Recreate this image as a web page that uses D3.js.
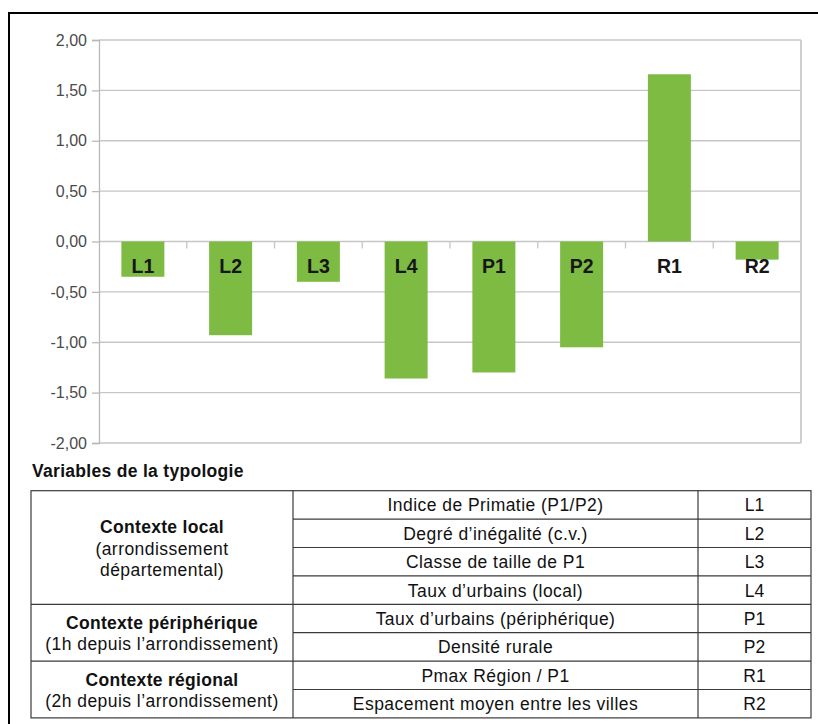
<!DOCTYPE html>
<html>
<head>
<meta charset="utf-8">
<script src="https://cdn.jsdelivr.net/npm/d3@7"></script>
<style>
  body { margin: 0; background: #fff; }
  svg { display: block; font-family: "Liberation Sans", Arial, sans-serif; }
</style>
</head>
<body>
<svg id="chart" width="818" height="724"></svg>
<script>
// data
var codes = ['L1', 'L2', 'L3', 'L4', 'P1', 'P2', 'R1', 'R2'];
var values = [-0.35, -0.93, -0.40, -1.36, -1.30, -1.05, 1.66, -0.18];
var yTicks = [-2, -1.5, -1, -0.5, 0, 0.5, 1, 1.5, 2];

var groups = ['Contexte local', 'Contexte périphérique', 'Contexte régional'];
var groupNotes = [['(arrondissement', 'départemental)'], ['(1h depuis l’arrondissement)'], ['(2h depuis l’arrondissement)']];
var groupSizes = [4, 2, 2];
var variables = ['Indice de Primatie (P1/P2)', 'Degré d’inégalité (c.v.)', 'Classe de taille de P1',
  'Taux d’urbains (local)', 'Taux d’urbains (périphérique)', 'Densité rurale',
  'Pmax Région / P1', 'Espacement moyen entre les villes'];

var svg = d3.select('#chart');
var plot = { left: 99, right: 801, top: 40, bottom: 443 };

// outer black frame (cut by the window on right and bottom)
svg.append('path')
  .attr('d', 'M9,730 L9,13 L830,13')
  .attr('fill', 'none')
  .attr('stroke', '#000')
  .attr('stroke-width', 2);

var x = d3.scaleBand()
  .domain(codes)
  .range([plot.left, plot.right])
  .paddingInner(0.51)
  .paddingOuter(0.255);

var y = d3.scaleLinear()
  .domain([-2, 2])
  .range([plot.bottom, plot.top]);

// grid lines
svg.append('g')
  .selectAll('line')
  .data(yTicks)
  .enter().append('line')
  .attr('x1', plot.left)
  .attr('x2', plot.right)
  .attr('y1', d => y(d))
  .attr('y2', d => y(d))
  .attr('stroke', '#c6c6c6')
  .attr('stroke-width', 1.3);

// right border of plot
svg.append('line')
  .attr('x1', plot.right).attr('x2', plot.right)
  .attr('y1', plot.top).attr('y2', plot.bottom)
  .attr('stroke', '#cfcfcf').attr('stroke-width', 2);

// y axis
var yAxis = svg.append('g')
  .attr('transform', 'translate(' + plot.left + ',0)')
  .call(d3.axisLeft(y).tickValues(yTicks).tickSize(7).tickPadding(5)
    .tickFormat(d => d3.format('.2f')(d).replace('.', ',').replace('−', '-')));
yAxis.select('.domain').attr('stroke', '#b8b8b8').attr('stroke-width', 1.3);
yAxis.selectAll('.tick line').attr('stroke', '#b8b8b8').attr('stroke-width', 1.3);
yAxis.selectAll('.tick text')
  .attr('fill', '#4a4a4a')
  .attr('font-size', '16px')
  .attr('font-family', '"Liberation Sans", Arial, sans-serif');

// category boundary ticks on zero line
var bounds = codes.slice(1).map(c => x(c) - x.step() * x.paddingInner() / 2);
svg.append('g')
  .selectAll('line')
  .data(bounds)
  .enter().append('line')
  .attr('x1', d => d).attr('x2', d => d)
  .attr('y1', y(0)).attr('y2', y(0) + 7)
  .attr('stroke', '#c6c6c6').attr('stroke-width', 1.3);

// bars
svg.append('g')
  .selectAll('rect')
  .data(codes)
  .enter().append('rect')
  .attr('x', d => x(d))
  .attr('width', x.bandwidth())
  .attr('y', (d, i) => y(Math.max(0, values[i])))
  .attr('height', (d, i) => Math.abs(y(values[i]) - y(0)))
  .attr('fill', '#7dbb42');

// bar labels
svg.append('g')
  .selectAll('text')
  .data(codes)
  .enter().append('text')
  .attr('x', d => x(d) + x.bandwidth() / 2)
  .attr('y', y(0) + 31)
  .attr('text-anchor', 'middle')
  .attr('font-size', '19.5px')
  .attr('font-weight', 'bold')
  .attr('fill', '#161616')
  .text(d => d);

// table
var fs = '17.5px';
var ls = '0.45px';

svg.append('text')
  .attr('x', 32).attr('y', 477)
  .attr('font-size', fs)
  .attr('letter-spacing', '0.3px')
  .attr('font-weight', 'bold')
  .attr('fill', '#111')
  .text('Variables de la typologie');

var tbl = { left: 31, mid: 293, code: 698, right: 811, top: 490.7, rowH: 28.4 };
var rowY = d3.scaleLinear().domain([0, variables.length]).range([tbl.top, tbl.top + tbl.rowH * variables.length]);
var lineColor = '#3a3a3a';
var t = svg.append('g');

t.append('rect')
  .attr('x', tbl.left).attr('y', rowY(0))
  .attr('width', tbl.right - tbl.left)
  .attr('height', rowY(variables.length) - rowY(0))
  .attr('fill', 'none').attr('stroke', lineColor).attr('stroke-width', 1.2);

[tbl.mid, tbl.code].forEach(function(cx) {
  t.append('line')
    .attr('x1', cx).attr('x2', cx)
    .attr('y1', rowY(0)).attr('y2', rowY(variables.length))
    .attr('stroke', lineColor).attr('stroke-width', 1.2);
});

var groupEnds = d3.cumsum(groupSizes);
d3.range(1, variables.length).forEach(function(i) {
  var full = groupEnds.indexOf(i) >= 0;
  t.append('line')
    .attr('x1', full ? tbl.left : tbl.mid).attr('x2', tbl.right)
    .attr('y1', rowY(i)).attr('y2', rowY(i))
    .attr('stroke', lineColor).attr('stroke-width', 1.2);
});

t.selectAll('text.var')
  .data(variables)
  .enter().append('text')
  .attr('class', 'var')
  .attr('x', (tbl.mid + tbl.code) / 2)
  .attr('y', (d, i) => rowY(i) + tbl.rowH / 2 + 6.5)
  .attr('text-anchor', 'middle')
  .attr('font-size', fs)
  .attr('letter-spacing', ls)
  .attr('fill', '#111')
  .text(d => d);

t.selectAll('text.code')
  .data(codes)
  .enter().append('text')
  .attr('class', 'code')
  .attr('x', (tbl.code + tbl.right) / 2)
  .attr('y', (d, i) => rowY(i) + tbl.rowH / 2 + 6.5)
  .attr('text-anchor', 'middle')
  .attr('font-size', fs)
  .attr('fill', '#111')
  .text(d => d);

groups.forEach(function(g, gi) {
  var start = gi == 0 ? 0 : groupEnds[gi - 1];
  var cy = (rowY(start) + rowY(groupEnds[gi])) / 2;
  var lines = [g].concat(groupNotes[gi]);
  var lh = 21.5;
  var y0 = cy - (lines.length - 1) * lh / 2 + 7;
  lines.forEach(function(l, li) {
    t.append('text')
      .attr('x', (tbl.left + tbl.mid) / 2)
      .attr('y', y0 + li * lh)
      .attr('text-anchor', 'middle')
      .attr('font-size', fs)
      .attr('letter-spacing', li == 0 ? '0.3px' : ls)
      .attr('font-weight', li == 0 ? 'bold' : 'normal')
      .attr('fill', '#111')
      .text(l);
  });
});
</script>
</body>
</html>
